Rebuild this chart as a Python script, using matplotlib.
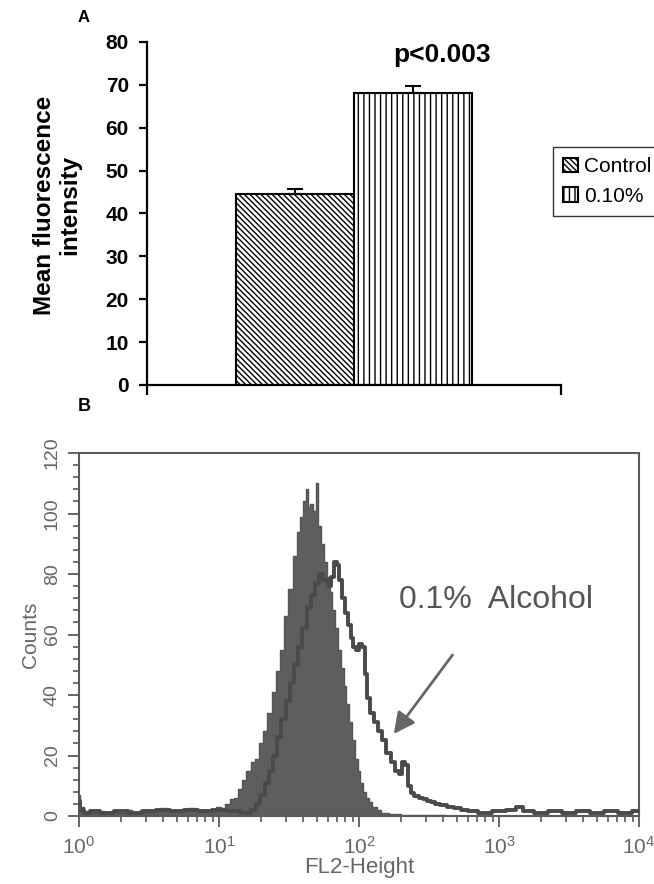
import numpy as np
import matplotlib
matplotlib.use("Agg")
import matplotlib.pyplot as plt
from matplotlib.ticker import MultipleLocator, LogLocator, NullFormatter

plt.rcParams['font.family'] = ['Liberation Sans', 'DejaVu Sans']
plt.rcParams['hatch.linewidth'] = 1.0

# === Panel A data ===
groups = ['Control', '0.10%']
means = [44.5, 68.0]
errs = [1.2, 1.8]
hatches = ['\\' * 6, '|||']
p_text = 'p<0.003'

# === Panel B data (log10 FL2 channel, counts) ===
ctrl_log = [0.00, 0.02, 0.05, 0.10, 0.15, 0.20, 0.25, 0.30, 0.35, 0.40, 0.45, 0.50,
            0.55, 0.60, 0.65, 0.70, 0.75, 0.80, 0.85, 0.90, 0.95, 1.00, 1.03, 1.06,
            1.09, 1.12, 1.15, 1.18, 1.21, 1.24, 1.27, 1.30, 1.33, 1.36, 1.39, 1.42,
            1.45, 1.48, 1.51, 1.54, 1.57, 1.59, 1.61, 1.63, 1.645, 1.66, 1.68, 1.70,
            1.72, 1.74, 1.76, 1.78, 1.80, 1.82, 1.84, 1.86, 1.88, 1.90, 1.92, 1.94,
            1.96, 1.98, 2.00, 2.02, 2.04, 2.06, 2.08, 2.11, 2.14, 2.18, 2.25, 2.35,
            2.50, 2.70, 3.00, 3.50, 4.00]
ctrl_counts = [7, 3, 1.5, 1, 1.5, 1, 1.5, 1, 2, 1, 1.5, 1,
               2, 2.5, 1.5, 2, 1.5, 2.5, 2, 1.5, 2, 3, 2.5, 4,
               5.5, 6, 9, 12, 15, 18, 19, 24, 28, 34, 41, 48,
               55, 66, 75, 86, 94, 99, 104, 108, 102, 103, 101, 110,
               96, 90, 84, 79, 74, 68, 62, 55, 49, 43, 37, 31,
               25, 19, 15, 11, 8, 6, 4.5, 3, 2, 1, 0.8, 0.5,
               0.3, 0, 0, 0, 0]

alc_log = [0.00, 0.02, 0.05, 0.10, 0.20, 0.30, 0.40, 0.50, 0.60, 0.70, 0.80, 0.90,
           1.00, 1.10, 1.20, 1.25, 1.28, 1.31, 1.34, 1.37, 1.40, 1.43, 1.46, 1.49,
           1.52, 1.55, 1.58, 1.61, 1.64, 1.67, 1.70, 1.73, 1.76, 1.79, 1.81, 1.83,
           1.85, 1.87, 1.89, 1.91, 1.93, 1.95, 1.97, 1.99, 2.01, 2.03, 2.05, 2.07,
           2.09, 2.12, 2.15, 2.18, 2.21, 2.24, 2.27, 2.30, 2.32, 2.34, 2.36, 2.38,
           2.41, 2.44, 2.47, 2.50, 2.53, 2.56, 2.60, 2.65, 2.70, 2.75, 2.80, 2.90,
           3.00, 3.10, 3.14, 3.20, 3.30, 3.40, 3.50, 3.60, 3.70, 3.80, 3.90, 4.00]
alc_counts = [5, 2, 1, 1.5, 1, 1.5, 1, 1.5, 2, 1.5, 2, 1.5,
              2, 1.5, 1, 2, 4, 7, 11, 15, 20, 26, 32, 38,
              44, 50, 56, 62, 69, 73, 77, 80, 78, 76, 79, 84,
              83, 78, 72, 67, 63, 59, 56, 55, 57, 56, 47, 39,
              34, 31, 28, 25, 21, 18, 15, 14, 18, 17, 10, 7.5,
              6.5, 6, 5.5, 5, 4.5, 4, 3.5, 3, 2.5, 2, 1.5, 1,
              1.5, 2, 3, 1.5, 1, 1.5, 1, 1.5, 1, 1.5, 1, 1.5]

fig = plt.figure(figsize=(6.54, 8.84), dpi=100)

# === Panel A ===
axA = fig.add_axes([0.2248, 0.5645, 0.633, 0.388])
bar_w = 0.285
xpos = [0.5 - bar_w / 2, 0.5 + bar_w / 2]
bars = []
for x, m, e, h, g in zip(xpos, means, errs, hatches, groups):
    b = axA.bar(x, m, width=bar_w, color='white', edgecolor='black',
                hatch=h, linewidth=1.5, label=g, zorder=2)
    axA.errorbar(x, m, yerr=[[0], [e]], fmt='none', ecolor='black',
                 elinewidth=1.5, capsize=6, capthick=1.5, zorder=3)
    bars.append(b)

axA.set_xlim(0, 1)
axA.set_ylim(0, 80)
axA.set_xticks([0, 1])
axA.set_xticklabels(['', ''])
axA.yaxis.set_major_locator(MultipleLocator(10))
axA.spines['top'].set_visible(False)
axA.spines['right'].set_visible(False)
for s in ['left', 'bottom']:
    axA.spines[s].set_linewidth(1.6)
axA.tick_params(axis='y', direction='out', length=6, width=1.6, pad=7,
                labelsize=15)
axA.tick_params(axis='x', direction='out', length=7, width=1.6)
for t in axA.get_yticklabels():
    t.set_fontweight('bold')
axA.set_ylabel('Mean fluorescence\nintensity', fontsize=17.5, fontweight='bold',
               linespacing=1.1)
axA.yaxis.set_label_coords(-0.16, 0.525)
axA.text(xpos[1] + 0.07, 77, p_text, ha='center', va='center',
         fontsize=19, fontweight='bold')

fig.legend(handles=bars, labels=groups, loc='upper left',
           bbox_to_anchor=(0.8456, 0.8337), frameon=True, fancybox=False,
           edgecolor='black', fontsize=15, handlelength=0.7, handleheight=0.7,
           handletextpad=0.3, borderpad=0.5, labelspacing=0.5, borderaxespad=0)

# === Panel B ===
gray = '#5a5a5a'
txt_gray = '#666666'
axB = fig.add_axes([0.1208, 0.0769, 0.8563, 0.4106])
axB.set_xscale('log')
cx = 10 ** np.array(ctrl_log)
ax_ = 10 ** np.array(alc_log)
axB.fill_between(cx, ctrl_counts, step='mid', color='#5e5e5e', lw=0, zorder=2)
axB.step(cx, ctrl_counts, where='mid', color='#555555', lw=1.0, zorder=2)
axB.step(ax_, alc_counts, where='mid', color='#4a4a4a', lw=2.8, zorder=3)

axB.set_xlim(1, 1e4)
axB.set_ylim(0, 120)
axB.yaxis.set_major_locator(MultipleLocator(20))
axB.yaxis.set_minor_locator(MultipleLocator(4))
axB.xaxis.set_major_locator(LogLocator(base=10))
axB.xaxis.set_minor_locator(LogLocator(base=10, subs=np.arange(2, 10)))
axB.xaxis.set_minor_formatter(NullFormatter())
for s in axB.spines.values():
    s.set_color(gray)
    s.set_linewidth(1.5)
axB.tick_params(axis='both', which='major', direction='out', length=8,
                width=1.3, color=gray, labelcolor=txt_gray)
axB.tick_params(axis='both', which='minor', direction='out', length=4,
                width=1.2, color=gray)
axB.tick_params(axis='y', labelsize=14, pad=5)
axB.tick_params(axis='x', labelsize=15, pad=6)
for t in axB.get_yticklabels():
    t.set_rotation(90)
    t.set_va('center')
axB.set_xlabel('FL2-Height', fontsize=16, color=txt_gray, labelpad=0)
axB.set_ylabel('Counts', fontsize=15, color=txt_gray, labelpad=3)

axB.text(10 ** 2.98, 71.5, '0.1%  Alcohol', ha='center', va='center',
         fontsize=23, color='#555555')
axB.annotate('', xy=(10 ** 2.236, 26.4), xytext=(10 ** 2.68, 54),
             arrowprops=dict(arrowstyle='-|>', color='#666666', lw=2,
                             mutation_scale=32), zorder=4)

fig.text(78 / 654, 1 - 18 / 884, 'A', fontsize=12, fontweight='bold',
         ha='left', va='center')
fig.text(78 / 654, 1 - 407 / 884, 'B', fontsize=13, fontweight='bold',
         ha='left', va='center')

fig.savefig('out.png', dpi=100)
